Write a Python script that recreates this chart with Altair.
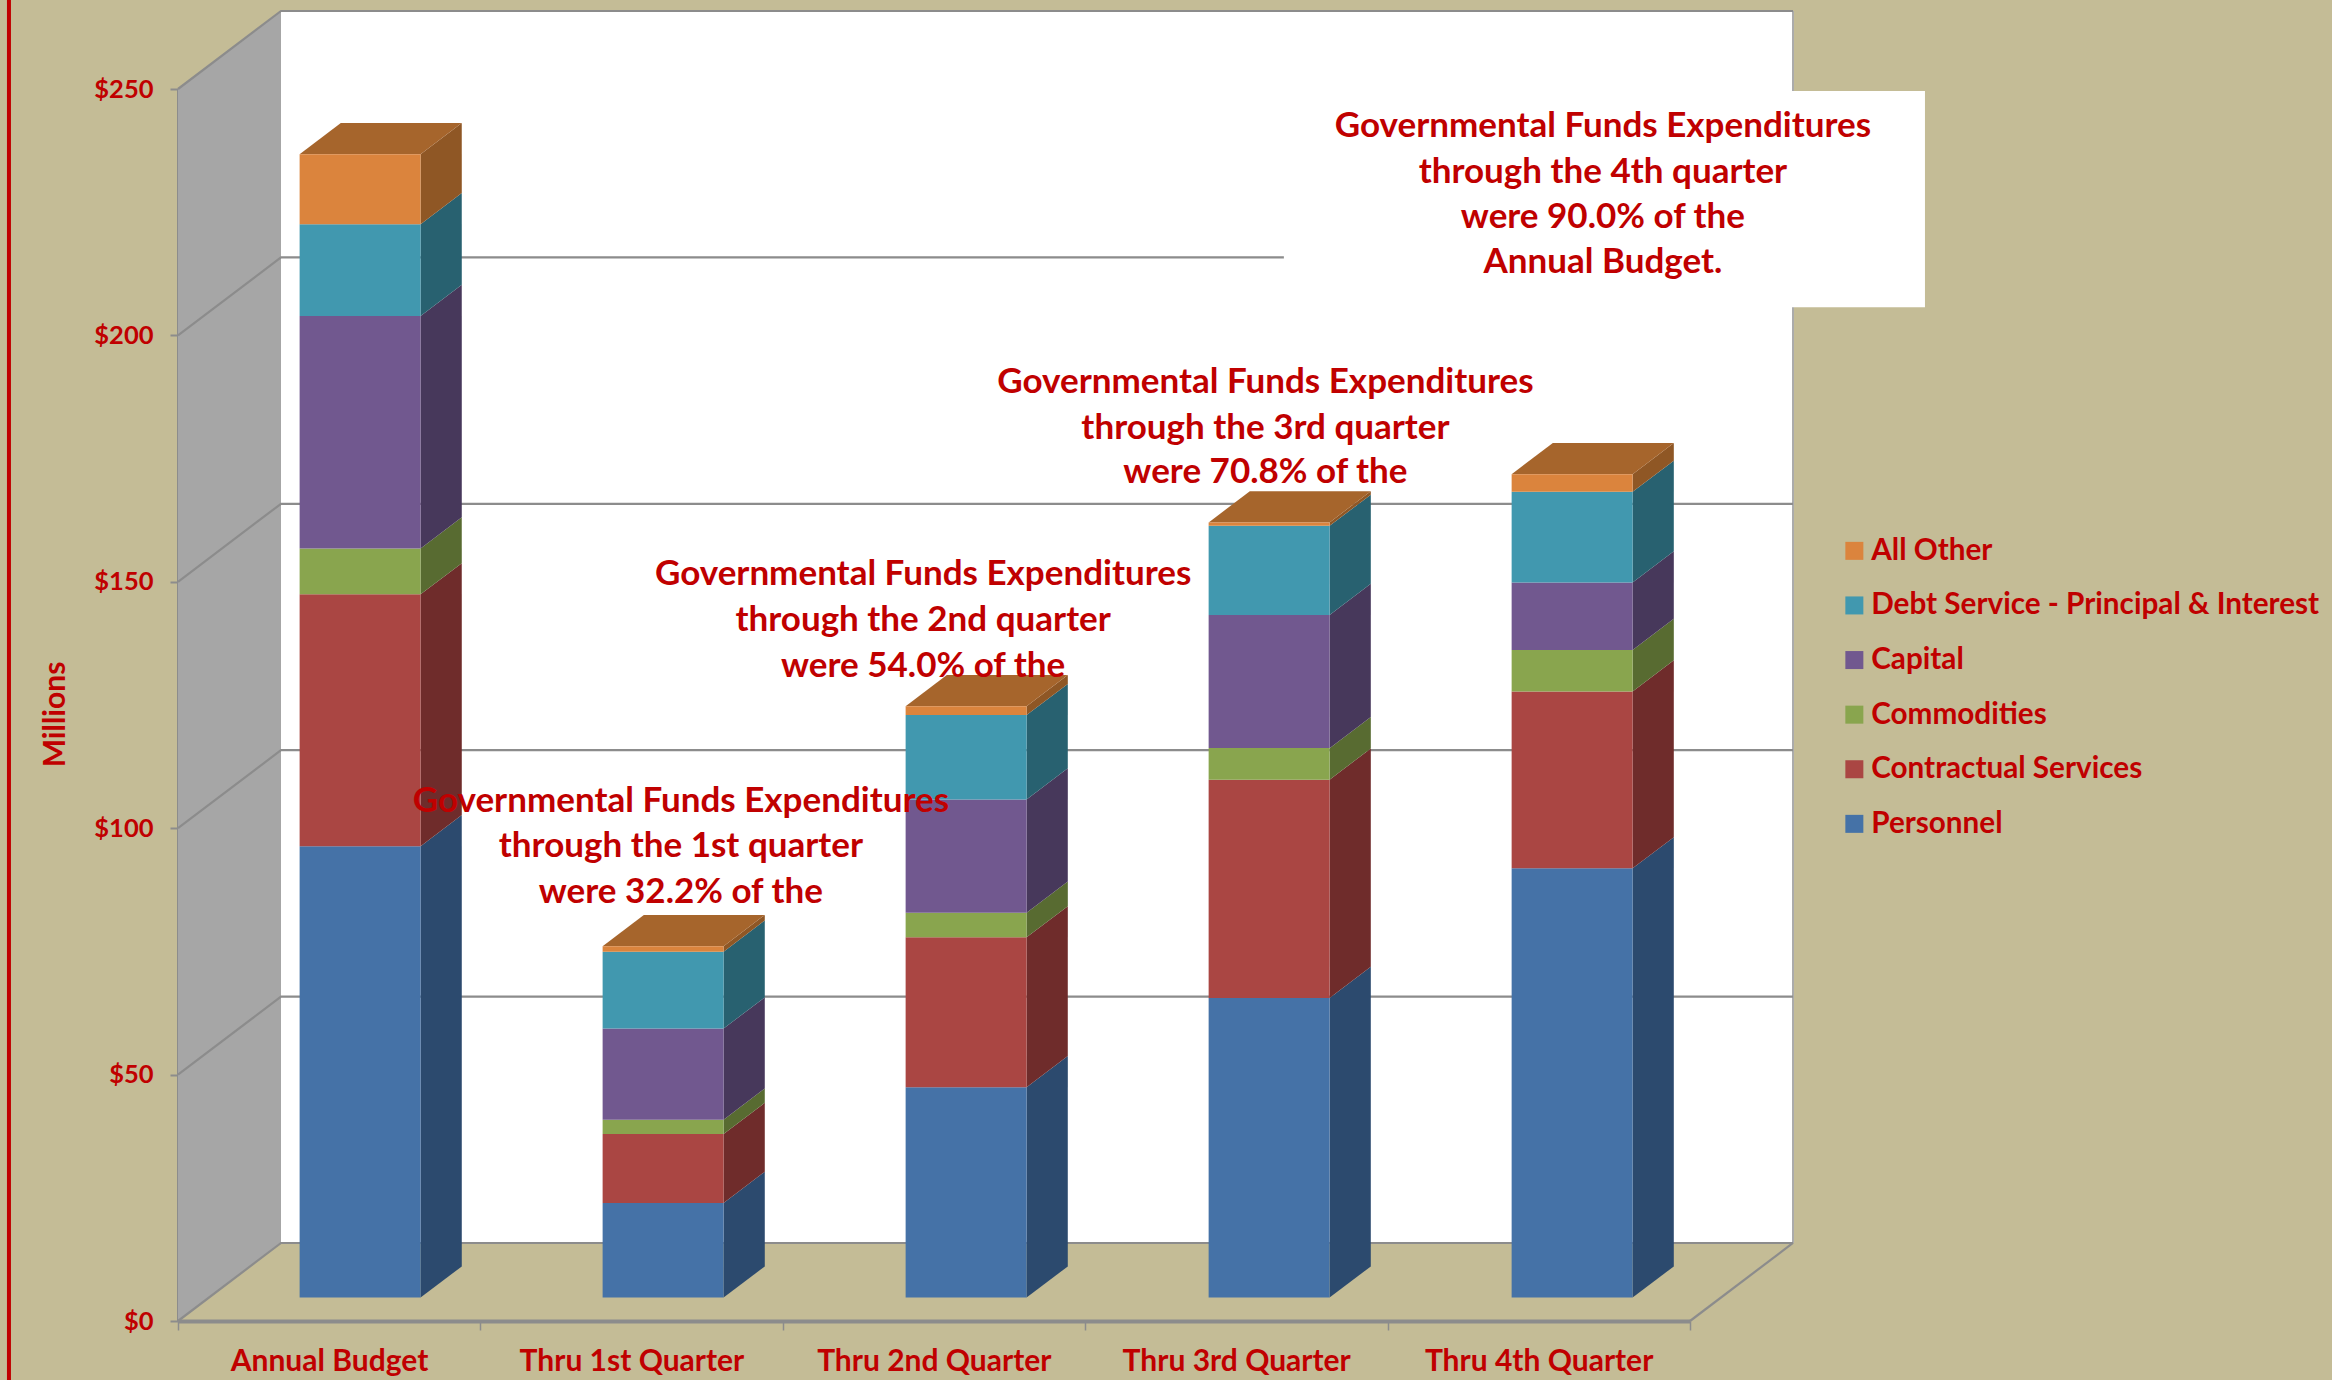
import json

import altair as alt
import pandas as pd

# Expenditures by category, $ millions, bottom of the stack first
periods = ["Annual Budget", "Thru 1st Quarter", "Thru 2nd Quarter", "Thru 3rd Quarter", "Thru 4th Quarter"]
personnel = [91.6, 19.2, 42.7, 60.8, 87.1]
contractual = [51.1, 14.0, 30.4, 44.3, 35.9]
commodities = [9.3, 2.9, 5.0, 6.4, 8.4]
capital = [47.2, 18.5, 23.0, 27.0, 13.7]
debt_service = [18.6, 15.6, 17.1, 18.1, 18.4]
all_other = [14.2, 1.1, 1.8, 0.7, 3.6]

series_names = ["Personnel", "Contractual Services", "Commodities", "Capital",
                "Debt Service - Principal & Interest", "All Other"]
series_values = [personnel, contractual, commodities, capital, debt_service, all_other]

front_colors = ["#4572A7", "#AA4643", "#89A54E", "#71588F", "#4198AF", "#DB843D"]
side_colors = ["#2C4A6E", "#6F2C2B", "#586B31", "#47385B", "#286170", "#8F5725"]
top_color = "#A6652C"

notes = [
    (1.663, [105.5, 96.4, 87.0],
     ["Governmental Funds Expenditures", "through the 1st quarter", "were 32.2% of the"]),
    (2.464, [151.6, 142.3, 132.9],
     ["Governmental Funds Expenditures", "through the 2nd quarter", "were 54.0% of the"]),
    (3.596, [190.6, 181.3, 172.3],
     ["Governmental Funds Expenditures", "through the 3rd quarter", "were 70.8% of the"]),
    (4.712, [242.4, 233.2, 224.1, 214.8],
     ["Governmental Funds Expenditures", "through the 4th quarter", "were 90.0% of the", "Annual Budget."]),
]

# Oblique projection: how far the back of the chart box sits from its front edge,
# expressed in axis units (categories across, dollars up)
BOX_X = 0.3406
BOX_Y = 15.83
BAR_PITCH = 1.002
BAR_WIDTH = 0.40
BAR_NEAR = 0.30
BAR_FAR = 0.70
TICKS = [0, 50, 100, 150, 200, 250]

TAN = "#C4BC96"
RED = "#C00000"
GRID = "#8C8C8C"
WALL = "#A6A6A6"
FONT = "Lato"

# Flat front faces of the stacked bars, and the slanted side and top faces
front_rows, poly_rows = [], []
for i, period in enumerate(periods):
    base = 0.0
    left = i * BAR_PITCH + 0.5 - BAR_WIDTH / 2 + BAR_NEAR * BOX_X
    right = left + BAR_WIDTH
    run_x = (BAR_FAR - BAR_NEAR) * BOX_X
    run_y = (BAR_FAR - BAR_NEAR) * BOX_Y
    lift = BAR_NEAR * BOX_Y
    for name, values, side in zip(series_names, series_values, side_colors):
        top = base + values[i]
        front_rows.append(dict(x=left, x2=right, y=base + lift, y2=top + lift, series=name))
        pid = f"{i}-{name}"
        poly_rows.append(dict(pid=pid, fill=side, x=right, y=base + lift, y2=top + lift))
        poly_rows.append(dict(pid=pid, fill=side, x=right + run_x, y=base + lift + run_y, y2=top + lift + run_y))
        base = top
    cap_low = base + lift
    cap_high = cap_low + run_y
    pid = f"{i}-top"
    poly_rows.append(dict(pid=pid, fill=top_color, x=left, y=cap_low, y2=cap_low))
    poly_rows.append(dict(pid=pid, fill=top_color, x=left + run_x, y=cap_low, y2=cap_high))
    poly_rows.append(dict(pid=pid, fill=top_color, x=right, y=cap_low, y2=cap_high))
    poly_rows.append(dict(pid=pid, fill=top_color, x=right + run_x, y=cap_high, y2=cap_high))

front = pd.DataFrame(front_rows)
polys = pd.DataFrame(poly_rows)

# Gridlines run up the side wall and then across the back wall
grid_rows = []
for t in TICKS:
    grid_rows.append(dict(line=t, seq=0, x=0, y=t))
    grid_rows.append(dict(line=t, seq=1, x=BOX_X, y=t + BOX_Y))
    grid_rows.append(dict(line=t, seq=2, x=5 + BOX_X, y=t + BOX_Y))
grid_rows.append(dict(line=-1, seq=0, x=5, y=0))
grid_rows.append(dict(line=-1, seq=1, x=5 + BOX_X, y=BOX_Y))
grid = pd.DataFrame(grid_rows)

# Right-hand edge of the back wall, drawn lighter than the gridlines
right_edge_df = pd.DataFrame(dict(x=[5 + BOX_X], y=[BOX_Y], y2=[250 + BOX_Y]))

note_rows = []
for x, ys, lines in notes:
    for y, text in zip(ys, lines):
        note_rows.append(dict(x=x, y=y, text=text))
note_df = pd.DataFrame(note_rows)

x_scale = alt.Scale(domain=[0, 5], nice=False, zero=False)
y_scale = alt.Scale(domain=[0, 250], nice=False, zero=False)

x_axis = alt.Axis(
    title=None, values=[0, 1, 2, 3, 4, 5], grid=False,
    labelExpr=f"({json.dumps(periods)})[datum.value] || ''",
    labelOffset=151, labelPadding=16, labelFont=FONT, labelFontSize=30, labelFontWeight="bold",
    labelColor=RED, labelOverlap=False, labelFlush=False, labelBound=False, labelLimit=400,
    tickColor=GRID, tickSize=9, tickWidth=1.5,
    domainColor=GRID, domainWidth=4,
)
y_axis = alt.Axis(
    title="Millions", values=TICKS, format="$.0f", grid=False,
    labelPadding=17, labelFont=FONT, labelFontSize=25.5, labelFontWeight="bold", labelColor=RED,
    labelOverlap=False, labelFlush=False, labelBound=False,
    tickColor=GRID, tickSize=8, tickWidth=2,
    domainColor=GRID, domainWidth=3,
    titleFont=FONT, titleFontSize=30, titleFontWeight="bold", titleColor=RED,
    titleX=-108, titleY=625,
)

X = alt.X("x:Q", scale=x_scale, axis=x_axis)
Y = alt.Y("y:Q", scale=y_scale, axis=y_axis, stack=None)

# Red rule along the left edge of the page
edge = alt.Chart(pd.DataFrame(dict(x=[-0.559], y=[-12.2], y2=[268.1]))).mark_rule(
    color=RED, strokeWidth=4
).encode(x=X, y=Y, y2="y2:Q")

back_wall = alt.Chart(pd.DataFrame(dict(x=[BOX_X], x2=[5 + BOX_X], y=[BOX_Y], y2=[250 + BOX_Y]))).mark_rect(
    color="white"
).encode(x=X, x2="x2:Q", y=Y, y2="y2:Q")

side_wall = alt.Chart(pd.DataFrame(dict(x=[0, BOX_X], y=[0, BOX_Y], y2=[250, 250 + BOX_Y]))).mark_area(
    color=WALL, orient="vertical"
).encode(x=X, y=Y, y2="y2:Q")

grid_lines = alt.Chart(grid).mark_line(color=GRID, strokeWidth=2.2).encode(
    x=X, y=Y, detail="line:N", order="seq:Q"
)

right_edge = alt.Chart(right_edge_df).mark_rule(color="#ABABAB", strokeWidth=2).encode(
    x=X, y=Y, y2="y2:Q"
)

# Panel that carries the fourth-quarter note past the right wall
note_box = alt.Chart(pd.DataFrame(dict(x=[3.657], x2=[5.777], y=[205.7], y2=[249.6]))).mark_rect(
    color="white"
).encode(x=X, x2="x2:Q", y=Y, y2="y2:Q")

slanted_faces = alt.Chart(polys).mark_area(orient="vertical").encode(
    x=X, y=Y, y2="y2:Q", detail="pid:N",
    color=alt.Color("fill:N", scale=None, legend=None),
)

front_faces = alt.Chart(front).mark_rect().encode(
    x=X, x2="x2:Q", y=Y, y2="y2:Q",
    color=alt.Color(
        "series:N",
        scale=alt.Scale(domain=series_names[::-1], range=front_colors[::-1]),
        legend=alt.Legend(
            title=None, orient="none", legendX=1661.5, legendY=447,
            symbolType="square", symbolSize=324, symbolStrokeWidth=0,
            labelFont=FONT, labelFontSize=29.7, labelFontWeight="bold", labelColor=RED,
            labelLimit=700, labelOffset=2, rowPadding=23.6,
        ),
    ),
)

note_text = alt.Chart(note_df).mark_text(
    font=FONT, fontSize=35, fontWeight="bold", color=RED, align="center", baseline="middle"
).encode(x=X, y=Y, text="text:N")

chart = alt.layer(
    edge, side_wall, back_wall, right_edge, grid_lines, note_box, slanted_faces, front_faces, note_text
).resolve_scale(color="independent").properties(
    width=1512,
    height=1232,
    padding={"left": 178, "top": 89, "right": 642, "bottom": 59},
    autosize=alt.AutoSizeParams(type="none"),
    background=TAN,
).configure_view(stroke=None)

chart.save("out.html", embed_options={"renderer": "svg", "actions": False})
